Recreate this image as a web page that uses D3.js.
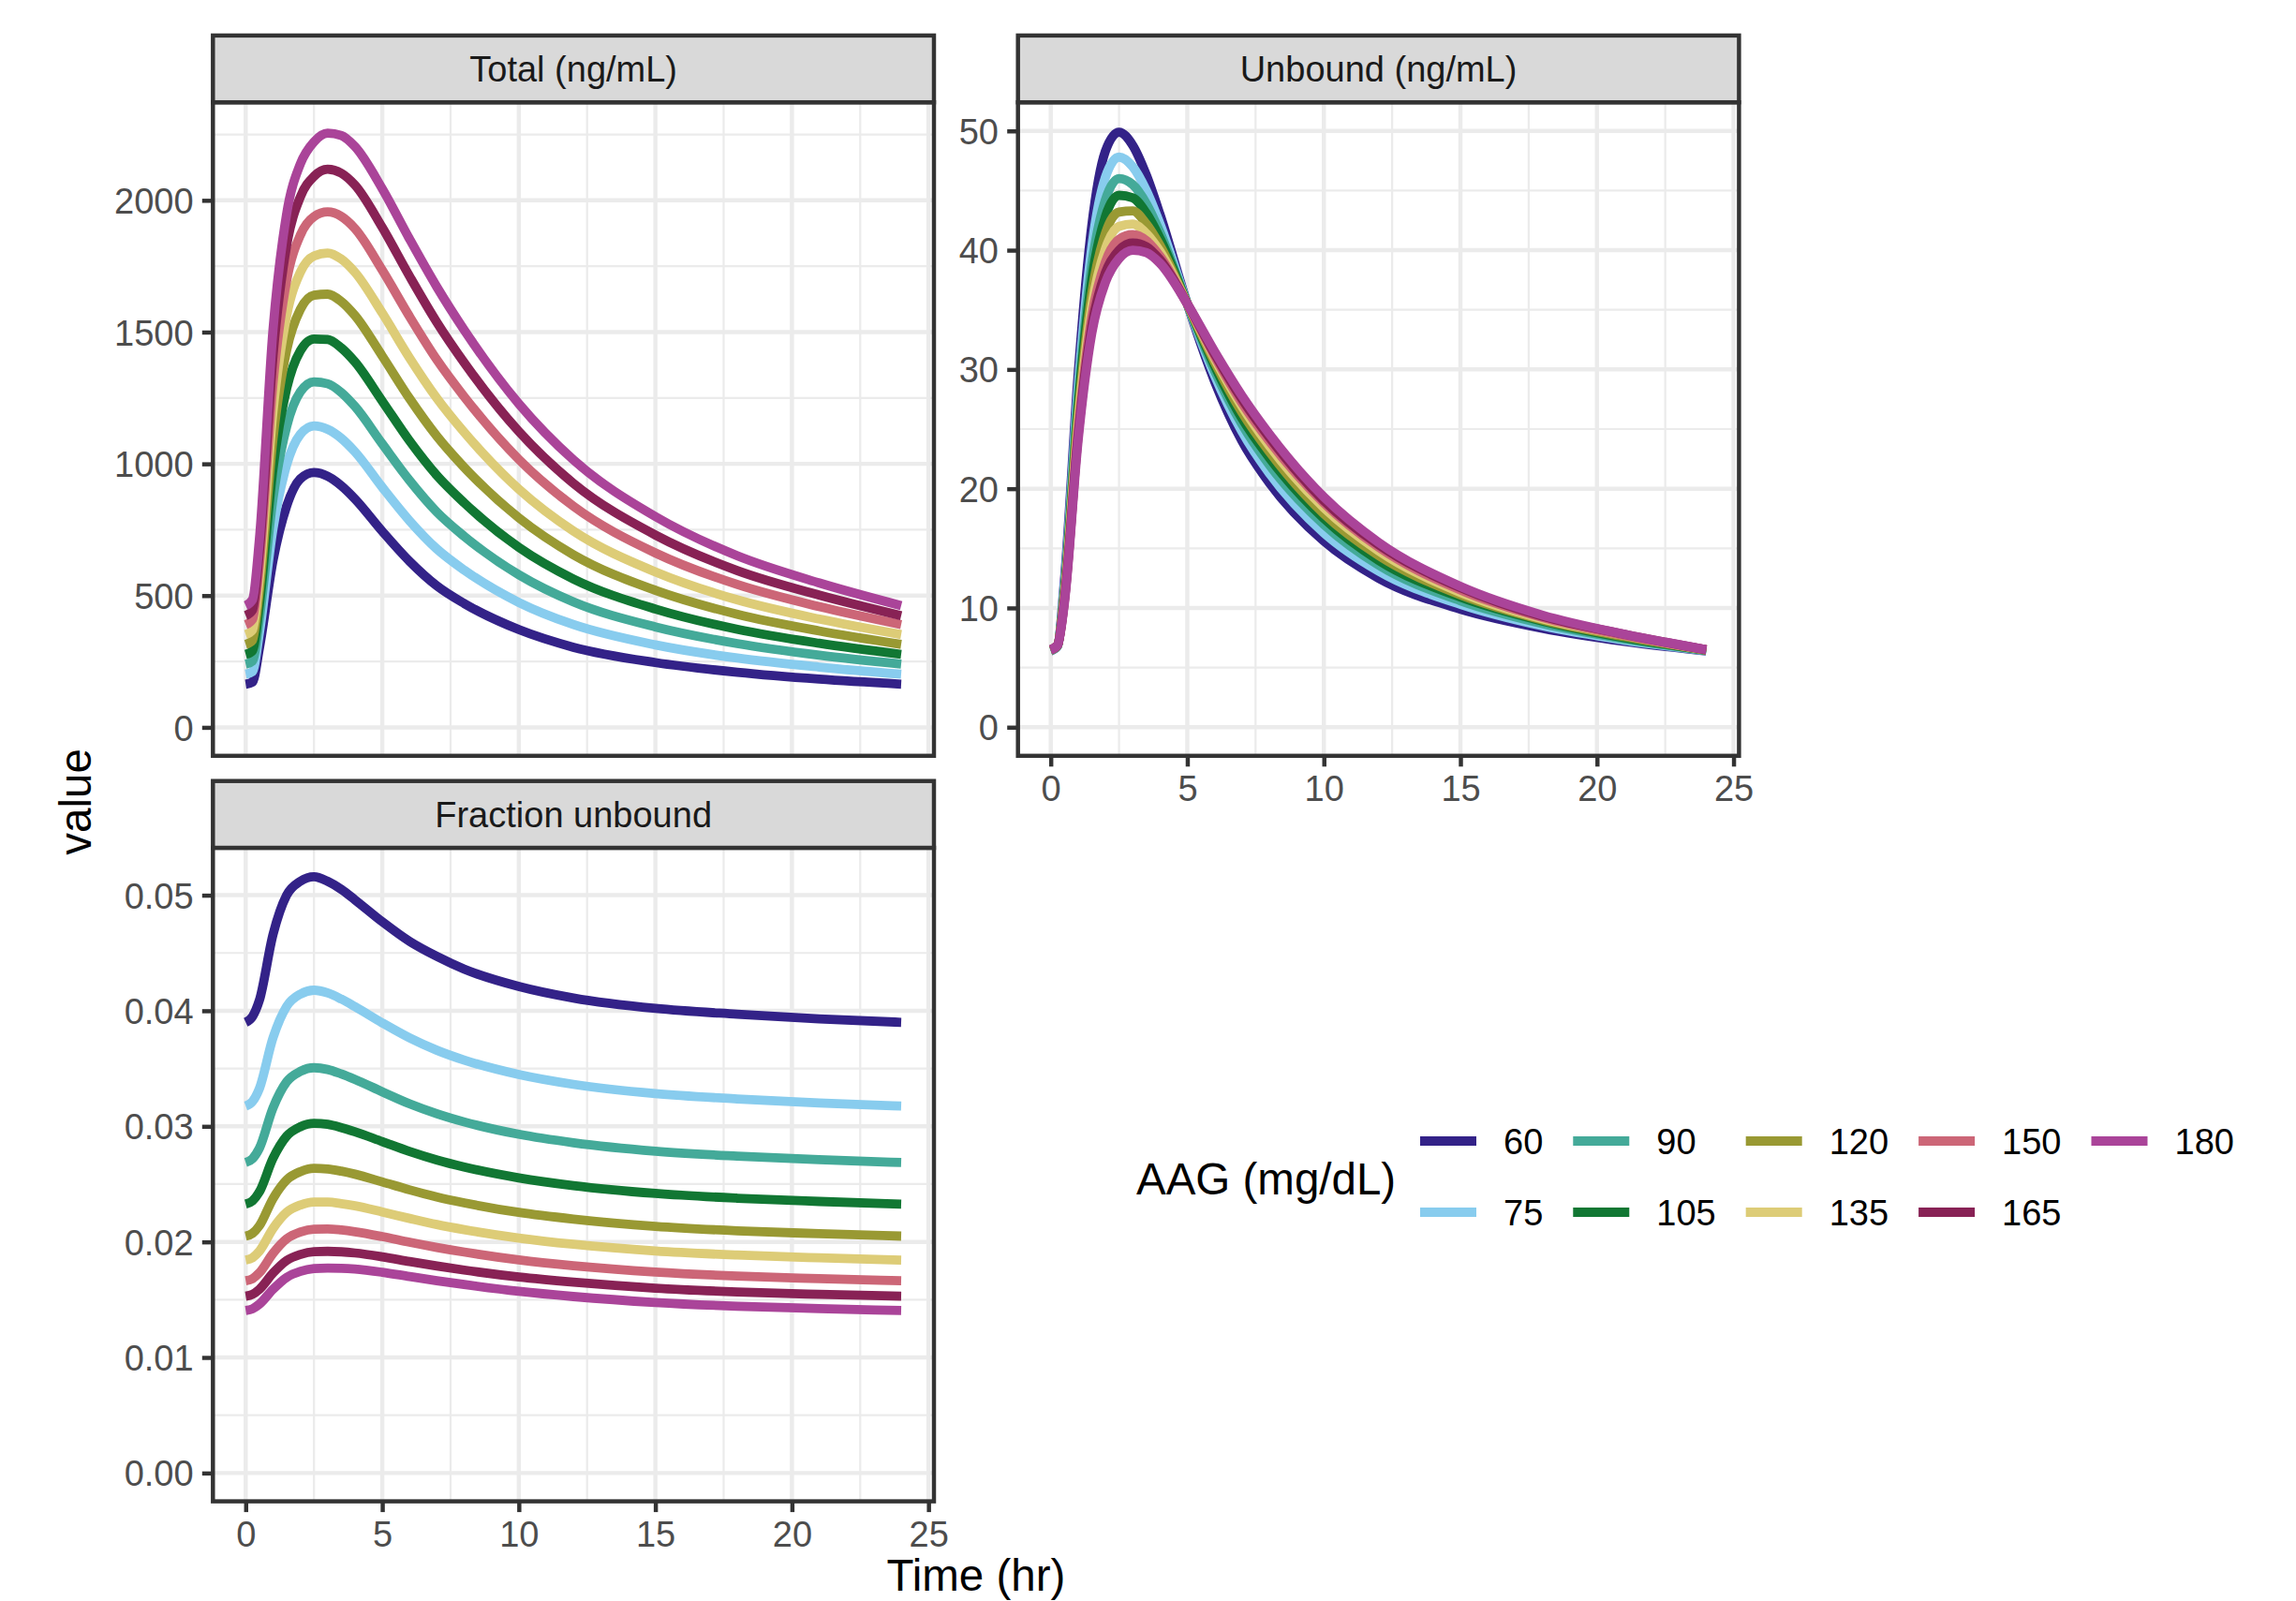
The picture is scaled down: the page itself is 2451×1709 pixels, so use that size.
<!DOCTYPE html>
<html>
<head>
<meta charset="utf-8">
<script src="https://cdn.jsdelivr.net/npm/d3@7"></script>
<style>
  html, body { margin: 0; padding: 0; background: #ffffff; }
  svg { display: block; }
  text { font-family: "Liberation Sans", Arial, sans-serif; }
</style>
</head>
<body>
<svg id="chart" width="2451" height="1709"></svg>
<script>
// ---------------- DATA ----------------
const timeHr = [0, 0.25, 0.5, 1, 1.5, 2, 2.5, 3, 3.5, 4, 5, 6, 7, 8, 10, 12, 15, 18, 21, 24];
const aagLevels = ["60", "75", "90", "105", "120", "135", "150", "165", "180"];
const aagColors = ["#332288", "#88CCEE", "#44AA99", "#117733", "#999933", "#DDCC77", "#CC6677", "#882255", "#AA4499"];

// Total (ng/mL), one row per AAG level
const totalNgmL = [
  [164, 172, 300, 633, 840, 943, 967, 953, 917, 867, 744, 630, 537, 470, 371, 304, 246, 209, 183, 164],
  [202, 212, 358, 754, 996, 1112, 1144, 1131, 1097, 1046, 911, 784, 677, 597, 474, 390, 313, 263, 229, 202],
  [240, 252, 412, 869, 1142, 1273, 1311, 1304, 1271, 1218, 1076, 937, 817, 725, 579, 476, 381, 318, 274, 240],
  [277, 291, 466, 982, 1286, 1429, 1474, 1472, 1440, 1387, 1238, 1087, 956, 852, 683, 563, 449, 372, 319, 277],
  [315, 331, 518, 1096, 1432, 1586, 1640, 1644, 1616, 1563, 1409, 1248, 1105, 987, 795, 655, 520, 429, 366, 315],
  [352, 370, 567, 1199, 1563, 1727, 1789, 1800, 1777, 1727, 1572, 1402, 1249, 1120, 904, 745, 590, 484, 411, 352],
  [390, 410, 619, 1306, 1696, 1868, 1938, 1956, 1939, 1893, 1735, 1559, 1395, 1255, 1017, 839, 662, 542, 458, 390],
  [424, 445, 666, 1410, 1829, 2013, 2091, 2118, 2103, 2058, 1897, 1712, 1537, 1384, 1123, 926, 730, 595, 502, 424],
  [462, 485, 712, 1509, 1949, 2138, 2222, 2255, 2246, 2204, 2044, 1853, 1671, 1508, 1228, 1015, 800, 651, 548, 462]
];

// Unbound (ng/mL)
const unboundNgmL = [
  [6.4, 6.8, 12.3, 29.5, 42.0, 48.3, 49.9, 48.8, 46.3, 43.0, 35.5, 29.0, 24.0, 20.5, 15.6, 12.5, 9.9, 8.3, 7.2, 6.4],
  [6.42, 6.8, 11.9, 28.4, 40.2, 46.1, 47.8, 47.0, 45.0, 42.2, 35.5, 29.5, 24.8, 21.3, 16.3, 13.1, 10.3, 8.5, 7.3, 6.42],
  [6.44, 6.85, 11.6, 27.5, 38.7, 44.2, 46.0, 45.5, 43.9, 41.5, 35.5, 29.9, 25.4, 22.0, 17.0, 13.6, 10.6, 8.7, 7.4, 6.44],
  [6.45, 6.85, 11.3, 26.8, 37.5, 42.8, 44.6, 44.4, 43.1, 41.0, 35.5, 30.3, 25.9, 22.6, 17.5, 14.0, 10.9, 8.9, 7.5, 6.45],
  [6.46, 6.86, 11.1, 26.0, 36.3, 41.4, 43.2, 43.3, 42.2, 40.4, 35.5, 30.6, 26.4, 23.1, 17.9, 14.4, 11.1, 9.0, 7.6, 6.46],
  [6.48, 6.89, 10.9, 25.4, 35.3, 40.1, 42.0, 42.2, 41.4, 39.9, 35.5, 30.9, 26.9, 23.6, 18.4, 14.8, 11.3, 9.1, 7.7, 6.48],
  [6.49, 6.9, 10.7, 24.8, 34.4, 39.0, 40.9, 41.3, 40.8, 39.5, 35.5, 31.1, 27.2, 24.0, 18.8, 15.1, 11.5, 9.2, 7.7, 6.49],
  [6.49, 6.88, 10.6, 24.4, 33.6, 38.1, 40.0, 40.6, 40.3, 39.2, 35.5, 31.3, 27.5, 24.3, 19.0, 15.3, 11.7, 9.3, 7.8, 6.49],
  [6.5, 6.89, 10.4, 24.0, 33.0, 37.3, 39.3, 40.0, 39.8, 38.9, 35.5, 31.5, 27.8, 24.6, 19.3, 15.5, 11.8, 9.4, 7.8, 6.5]
];

// Fraction unbound
const fractionUnbound = [
  [0.0390, 0.0395, 0.0409, 0.0466, 0.0500, 0.0512, 0.0516, 0.0512, 0.0505, 0.0496, 0.0477, 0.0460, 0.0447, 0.0436, 0.0421, 0.0411, 0.0402, 0.0397, 0.0393, 0.0390],
  [0.03175, 0.03215, 0.03326, 0.03766, 0.04038, 0.04144, 0.04178, 0.04154, 0.04101, 0.04036, 0.03895, 0.03765, 0.03658, 0.03573, 0.03448, 0.03363, 0.03283, 0.03237, 0.03202, 0.03175],
  [0.02687, 0.02720, 0.02810, 0.03160, 0.03385, 0.03475, 0.03507, 0.03492, 0.03453, 0.03406, 0.03299, 0.03195, 0.03109, 0.03038, 0.02931, 0.02858, 0.02785, 0.02742, 0.02711, 0.02687],
  [0.02327, 0.02355, 0.02432, 0.02723, 0.02915, 0.02996, 0.03026, 0.03017, 0.02989, 0.02953, 0.02868, 0.02783, 0.02709, 0.02648, 0.02554, 0.02487, 0.02419, 0.02378, 0.02350, 0.02327],
  [0.02050, 0.02074, 0.02139, 0.02375, 0.02537, 0.02608, 0.02636, 0.02631, 0.02612, 0.02586, 0.02519, 0.02450, 0.02389, 0.02338, 0.02255, 0.02197, 0.02134, 0.02096, 0.02071, 0.02050],
  [0.01843, 0.01863, 0.01919, 0.02116, 0.02256, 0.02319, 0.02345, 0.02344, 0.02331, 0.02312, 0.02259, 0.02203, 0.02150, 0.02106, 0.02033, 0.01979, 0.01921, 0.01886, 0.01862, 0.01843],
  [0.01664, 0.01682, 0.01732, 0.01901, 0.02026, 0.02085, 0.02110, 0.02112, 0.02103, 0.02088, 0.02046, 0.01997, 0.01952, 0.01912, 0.01844, 0.01794, 0.01739, 0.01704, 0.01682, 0.01664],
  [0.01530, 0.01546, 0.01589, 0.01730, 0.01839, 0.01891, 0.01915, 0.01918, 0.01914, 0.01904, 0.01871, 0.01830, 0.01791, 0.01756, 0.01696, 0.01651, 0.01599, 0.01567, 0.01546, 0.01530],
  [0.01406, 0.01421, 0.01461, 0.01590, 0.01693, 0.01745, 0.01769, 0.01774, 0.01772, 0.01765, 0.01737, 0.01700, 0.01664, 0.01631, 0.01572, 0.01527, 0.01476, 0.01443, 0.01423, 0.01406]
];

const xTicks = [0, 5, 10, 15, 20, 25];
const xTickLabels = ["0", "5", "10", "15", "20", "25"];
const totalTicks = [0, 500, 1000, 1500, 2000];
const totalTickLabels = ["0", "500", "1000", "1500", "2000"];
const unboundTicks = [0, 10, 20, 30, 40, 50];
const unboundTickLabels = ["0", "10", "20", "30", "40", "50"];
const fuTicks = [0, 0.01, 0.02, 0.03, 0.04, 0.05];
const fuTickLabels = ["0.00", "0.01", "0.02", "0.03", "0.04", "0.05"];

const panelTitles = ["Total (ng/mL)", "Unbound (ng/mL)", "Fraction unbound"];
const xTitle = "Time (hr)";
const yTitle = "value";
const legendTitle = "AAG (mg/dL)";

// ---------------- LAYOUT ----------------
const svg = d3.select("#chart");
const PW = 769.7, PH = 697.6, STRIP = 71.3;
const FS_SMALL = 38, FS_TITLE = 47.5;
const LW_THIN = 4.46, LW_MINOR = 2.23, LW_DATA = 9.8, TICK = 11.5;
const GRID = "#EBEBEB", DARK = "#333333";

const panels = [
  { title: panelTitles[0], data: totalNgmL, x0: 227.3, y0: 109.2, domain: [-108, 2372], ticks: totalTicks, labels: totalTickLabels, showX: false },
  { title: panelTitles[1], data: unboundNgmL, x0: 1086.7, y0: 109.2, domain: [-2.4, 52.4], ticks: unboundTicks, labels: unboundTickLabels, showX: true },
  { title: panelTitles[2], data: fractionUnbound, x0: 227.3, y0: 905.0, domain: [-0.00245, 0.0541], ticks: fuTicks, labels: fuTickLabels, showX: true }
];

function minorBetween(arr, lo, hi) {
  const out = [];
  for (let i = 0; i < arr.length - 1; i++) {
    const m = (arr[i] + arr[i + 1]) / 2;
    if (m > lo && m < hi) out.push(m);
  }
  const step = arr[1] - arr[0];
  const beyond = arr[arr.length - 1] + step / 2;
  if (beyond > lo && beyond < hi) out.push(beyond);
  return out;
}

panels.forEach((p, pi) => {
  const g = svg.append("g").attr("transform", `translate(${p.x0},${p.y0})`);
  const x = d3.scaleLinear().domain([-1.2, 25.2]).range([0, PW]);
  const y = d3.scaleLinear().domain(p.domain).range([PH, 0]);

  const clipId = "clip" + pi;
  g.append("clipPath").attr("id", clipId).append("rect").attr("width", PW).attr("height", PH);
  const inner = g.append("g").attr("clip-path", `url(#${clipId})`);
  inner.append("rect").attr("width", PW).attr("height", PH).attr("fill", "#ffffff");

  const xMinor = minorBetween(xTicks, -1.2, 25.2);
  const yMinor = minorBetween(p.ticks, p.domain[0], p.domain[1]);
  inner.selectAll(".xminor").data(xMinor).join("line")
    .attr("x1", d => x(d)).attr("x2", d => x(d)).attr("y1", 0).attr("y2", PH)
    .attr("stroke", GRID).attr("stroke-width", LW_MINOR);
  inner.selectAll(".yminor").data(yMinor).join("line")
    .attr("x1", 0).attr("x2", PW).attr("y1", d => y(d)).attr("y2", d => y(d))
    .attr("stroke", GRID).attr("stroke-width", LW_MINOR);
  inner.selectAll(".xmajor").data(xTicks).join("line")
    .attr("x1", d => x(d)).attr("x2", d => x(d)).attr("y1", 0).attr("y2", PH)
    .attr("stroke", GRID).attr("stroke-width", LW_THIN);
  inner.selectAll(".ymajor").data(p.ticks).join("line")
    .attr("x1", 0).attr("x2", PW).attr("y1", d => y(d)).attr("y2", d => y(d))
    .attr("stroke", GRID).attr("stroke-width", LW_THIN);

  const line = d3.line().x((d, i) => x(timeHr[i])).y(d => y(d)).curve(d3.curveMonotoneX);
  inner.selectAll(".series").data(p.data).join("path")
    .attr("d", d => line(d))
    .attr("fill", "none")
    .attr("stroke", (d, i) => aagColors[i])
    .attr("stroke-width", LW_DATA)
    .attr("stroke-linejoin", "round")
    .attr("stroke-linecap", "butt");

  g.append("rect").attr("width", PW).attr("height", PH)
    .attr("fill", "none").attr("stroke", DARK).attr("stroke-width", LW_THIN);

  g.append("rect").attr("x", 0).attr("y", -STRIP).attr("width", PW).attr("height", STRIP)
    .attr("fill", "#D9D9D9").attr("stroke", DARK).attr("stroke-width", LW_THIN);
  g.append("text").attr("x", PW / 2).attr("y", -STRIP / 2 + 0.358 * FS_SMALL)
    .attr("text-anchor", "middle").attr("font-size", FS_SMALL).attr("fill", "#1A1A1A")
    .text(p.title);

  const yAxis = d3.axisLeft(y).tickValues(p.ticks).tickFormat((d, i) => p.labels[i])
    .tickSize(TICK).tickPadding(9.2);
  const ya = g.append("g").call(yAxis);
  ya.select(".domain").remove();
  ya.selectAll(".tick line").attr("stroke", DARK).attr("stroke-width", LW_THIN);
  ya.selectAll(".tick text").attr("font-size", FS_SMALL).attr("fill", "#4D4D4D")
    .attr("font-family", "Liberation Sans, Arial, sans-serif")
    .attr("dy", null).attr("y", 0.358 * FS_SMALL);

  if (p.showX) {
    const xAxis = d3.axisBottom(x).tickValues(xTicks).tickFormat((d, i) => xTickLabels[i])
      .tickSize(TICK).tickPadding(9.2);
    const xa = g.append("g").attr("transform", `translate(0,${PH})`).call(xAxis);
    xa.select(".domain").remove();
    xa.selectAll(".tick line").attr("stroke", DARK).attr("stroke-width", LW_THIN);
    xa.selectAll(".tick text").attr("font-size", FS_SMALL).attr("fill", "#4D4D4D")
      .attr("font-family", "Liberation Sans, Arial, sans-serif")
      .attr("dy", null).attr("y", 35 + 0.358 * FS_SMALL);
  }
});

svg.append("text").attr("x", (227.3 + 1086.7 + PW) / 2).attr("y", 1698)
  .attr("text-anchor", "middle").attr("font-size", FS_TITLE).attr("fill", "#000")
  .text(xTitle);
svg.append("text").attr("transform", `translate(97,${(109.2 + 905 + PH) / 2}) rotate(-90)`)
  .attr("text-anchor", "middle").attr("font-size", FS_TITLE).attr("fill", "#000")
  .text(yTitle);

const leg = svg.append("g");
leg.append("text").attr("x", 1213).attr("y", 1275).attr("font-size", FS_TITLE).attr("fill", "#000")
  .text(legendTitle);
const rowY = [1218, 1294];
let colX = 1516;
for (let c = 0; c < Math.ceil(aagLevels.length / 2); c++) {
  let maxW = 0;
  for (let r = 0; r < 2; r++) {
    const i = c * 2 + r;
    if (i >= aagLevels.length) break;
    leg.append("line").attr("x1", colX).attr("x2", colX + 60)
      .attr("y1", rowY[r]).attr("y2", rowY[r])
      .attr("stroke", aagColors[i]).attr("stroke-width", LW_DATA).attr("stroke-linecap", "butt");
    const t = leg.append("text").attr("x", colX + 89).attr("y", rowY[r] + 0.358 * FS_SMALL)
      .attr("font-size", FS_SMALL).attr("fill", "#000").text(aagLevels[i]);
    maxW = Math.max(maxW, t.node().getComputedTextLength());
  }
  colX = colX + 89 + maxW + 32;
}
</script>
</body>
</html>
